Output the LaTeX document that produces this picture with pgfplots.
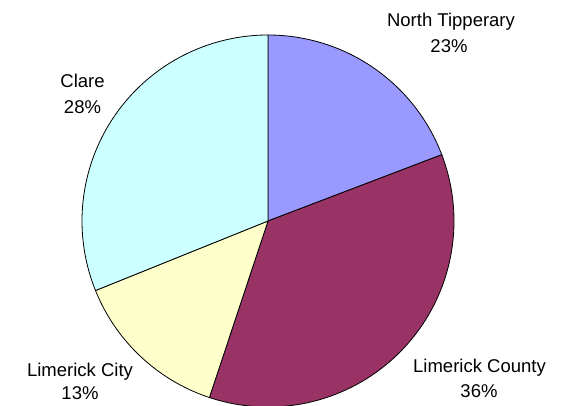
\documentclass[border=0pt]{standalone}
\usepackage{pgfplots}
\pgfplotsset{compat=1.18}
\usepackage{pgfplotstable}
\usepackage{fontspec}
\setmainfont{Liberation Sans}
\definecolor{ntcol}{HTML}{9999FF}
\definecolor{lcocol}{HTML}{993366}
\definecolor{lcicol}{HTML}{FFFFCC}
\definecolor{clarecol}{HTML}{CCFFFF}
% wedge shares (clockwise from 12 o'clock)
\pgfplotstableread{
name share
NorthTipperary 19.2
LimerickCounty 35.9
LimerickCity 13.8
Clare 31.1
}\piedata
\pgfplotstablegetelem{0}{share}\of\piedata \let\sA\pgfplotsretval
\pgfplotstablegetelem{1}{share}\of\piedata \let\sB\pgfplotsretval
\pgfplotstablegetelem{2}{share}\of\piedata \let\sC\pgfplotsretval
\pgfplotstablegetelem{3}{share}\of\piedata \let\sD\pgfplotsretval
\pgfmathsetmacro\aA{90}
\pgfmathsetmacro\aB{\aA-3.6*\sA}
\pgfmathsetmacro\aC{\aB-3.6*\sB}
\pgfmathsetmacro\aD{\aC-3.6*\sC}
\pgfmathsetmacro\aE{\aD-3.6*\sD}
\def\cx{268}
\def\cy{185}
\def\rr{186}
\begin{document}
\begin{tikzpicture}
\begin{axis}[
  hide axis, scale only axis,
  width=563pt, height=406pt,
  xmin=0, xmax=563, ymin=0, ymax=406,
  clip=true,
]
\addplot[draw=black, line width=0.8pt, fill=ntcol, domain=\aB:\aA, samples=80, variable=\t]
  ({\cx+\rr*cos(\t)},{\cy+\rr*sin(\t)}) -- (axis cs:\cx,\cy) -- cycle;
\addplot[draw=black, line width=0.8pt, fill=lcocol, domain=\aC:\aB, samples=120, variable=\t]
  ({\cx+\rr*cos(\t)},{\cy+\rr*sin(\t)}) -- (axis cs:\cx,\cy) -- cycle;
\addplot[draw=black, line width=0.8pt, fill=lcicol, domain=\aD:\aC, samples=60, variable=\t]
  ({\cx+\rr*cos(\t)},{\cy+\rr*sin(\t)}) -- (axis cs:\cx,\cy) -- cycle;
\addplot[draw=black, line width=0.8pt, fill=clarecol, domain=\aE:\aD, samples=100, variable=\t]
  ({\cx+\rr*cos(\t)},{\cy+\rr*sin(\t)}) -- (axis cs:\cx,\cy) -- cycle;
\begin{scope}[every node/.style={anchor=base, inner sep=0pt, font=\fontsize{18.5}{22}\selectfont}]
\node at (axis cs:451,379) {North Tipperary};
\node at (axis cs:449,353) {23\%};
\node at (axis cs:82.5,318) {Clare};
\node at (axis cs:82.5,292) {28\%};
\node at (axis cs:80,29) {Limerick City};
\node at (axis cs:80,6) {13\%};
\node at (axis cs:479.5,33) {Limerick County};
\node at (axis cs:479,8) {36\%};
\end{scope}
\end{axis}
\pgfresetboundingbox
\path (current axis.south west) rectangle (current axis.north east);
\end{tikzpicture}
\end{document}
